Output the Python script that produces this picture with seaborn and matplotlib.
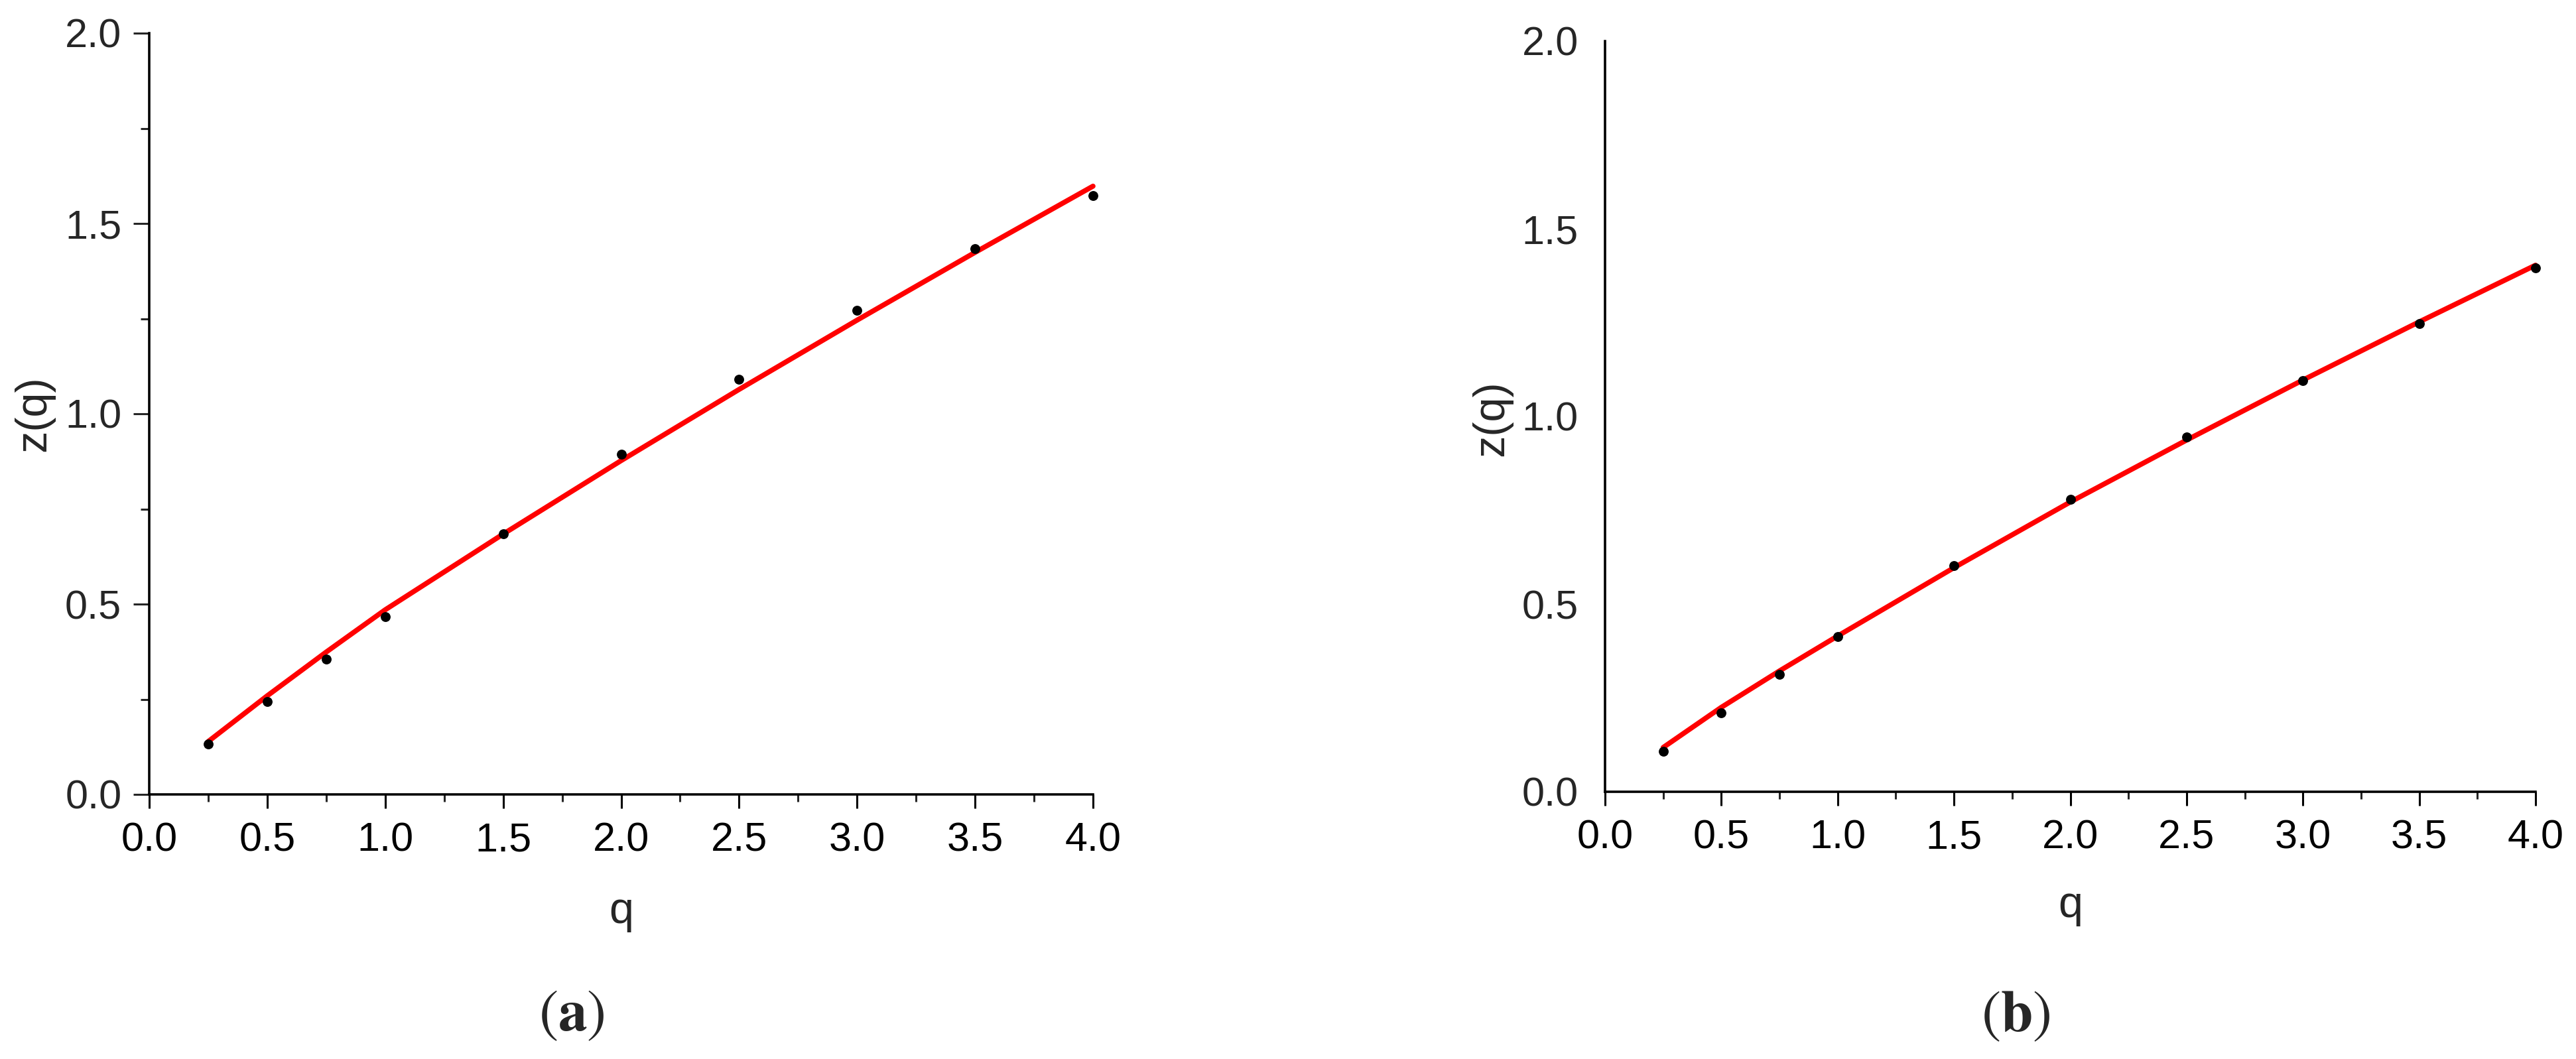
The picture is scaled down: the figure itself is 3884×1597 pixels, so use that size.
import matplotlib
matplotlib.use("Agg")
import matplotlib.pyplot as plt
import seaborn as sns
import pandas as pd
from matplotlib.ticker import MultipleLocator

# ---------------- data ----------------
q_points = [0.25, 0.5, 0.75, 1.0, 1.5, 2.0, 2.5, 3.0, 3.5, 4.0]
z_points_a = [0.133, 0.244, 0.355, 0.467, 0.685, 0.894, 1.090, 1.271, 1.434, 1.573]
z_points_b = [0.108, 0.210, 0.312, 0.413, 0.603, 0.779, 0.945, 1.095, 1.247, 1.396]

q_fit = [0.25, 0.5, 0.75, 1.0, 1.5, 2.0, 2.5, 3.0, 3.5, 4.0]
z_fit_a = [0.139, 0.259, 0.374, 0.485, 0.684, 0.877, 1.064, 1.246, 1.424, 1.598]
z_fit_b = [0.118, 0.225, 0.322, 0.415, 0.597, 0.772, 0.937, 1.097, 1.252, 1.403]

x_label = "q"
y_label = "z(q)"
panel_labels = [r"$(\mathbf{a})$", r"$(\mathbf{b})$"]

# ---------------- style ----------------
sns.set_style("ticks")
plt.rcParams["font.family"] = ["Liberation Sans", "DejaVu Sans"]
plt.rcParams["mathtext.fontset"] = "stix"

W, H = 3884, 1597
fig = plt.figure(figsize=(W / 100, H / 100), dpi=100)

axes_px = [
    (225, 50, 1648, 1198),   # left, top, right, bottom in px
    (2420, 62, 3823, 1194),
]

def frac(box):
    l, t, r, b = box
    return [l / W, (H - b) / H, (r - l) / W, (b - t) / H]

ax_a = fig.add_axes(frac(axes_px[0]))
ax_b = fig.add_axes(frac(axes_px[1]))

datasets = [
    (ax_a, z_points_a, z_fit_a),
    (ax_b, z_points_b, z_fit_b),
]

for i, (ax, zp, zf) in enumerate(datasets):
    df_pts = pd.DataFrame({"q": q_points, "z": zp})
    df_fit = pd.DataFrame({"q": q_fit, "z": zf})
    sns.lineplot(data=df_fit, x="q", y="z", ax=ax, color="#ff0000",
                 linewidth=5.5, zorder=2, estimator=None, sort=True,
                 clip_on=False, solid_capstyle="round")
    sns.scatterplot(data=df_pts, x="q", y="z", ax=ax, color="black",
                    s=115, edgecolor="black", linewidth=0, zorder=3,
                    clip_on=False)

    ax.set_xlim(0, 4)
    ax.set_ylim(0, 2)
    ax.xaxis.set_major_locator(MultipleLocator(0.5))
    ax.xaxis.set_minor_locator(MultipleLocator(0.25))
    ax.yaxis.set_major_locator(MultipleLocator(0.5))
    ax.set_xticklabels([f"{v:.1f}" for v in ax.get_xticks()])
    ax.set_yticklabels([f"{v:.1f}" for v in ax.get_yticks()])

    for side in ["top", "right"]:
        ax.spines[side].set_visible(False)
    for side in ["left", "bottom"]:
        ax.spines[side].set_linewidth(2.6)
        ax.spines[side].set_color("black")

    ax.tick_params(axis="x", which="major", direction="out", length=15,
                   width=2.2, pad=15, labelsize=44, colors="black")
    ax.tick_params(axis="x", which="minor", direction="out", length=8,
                   width=2.2)

    ax.set_xlabel(x_label, fontsize=48)
    ax.set_ylabel(y_label, fontsize=48)
    ax.set_facecolor("white")

# left panel y: ticks with minors
ax_a.yaxis.set_minor_locator(MultipleLocator(0.25))
ax_a.tick_params(axis="y", which="major", direction="out", length=17,
                 width=2.2, pad=13, labelsize=44)
ax_a.tick_params(axis="y", which="minor", direction="out", length=9.5,
                 width=2.2)
# right panel y: no tick marks
ax_b.tick_params(axis="y", which="major", length=0, pad=29, labelsize=44)
ax_b.tick_params(axis="y", which="minor", length=0)

# axis label positions (axes fraction)
ax_a.yaxis.set_label_coords(-0.1005, 0.5)
ax_b.yaxis.set_label_coords(-0.0998, 0.498)
ax_a.xaxis.set_label_coords(0.5, -0.127)
ax_b.xaxis.set_label_coords(0.5, -0.1246)

# panel labels
fig.text(862 / W, (H - 1532) / H, panel_labels[0], fontsize=63,
         ha="center", va="center")
fig.text(3039 / W, (H - 1533) / H, panel_labels[1], fontsize=63,
         ha="center", va="center")

fig.savefig("out.png", dpi=100, facecolor="white")
